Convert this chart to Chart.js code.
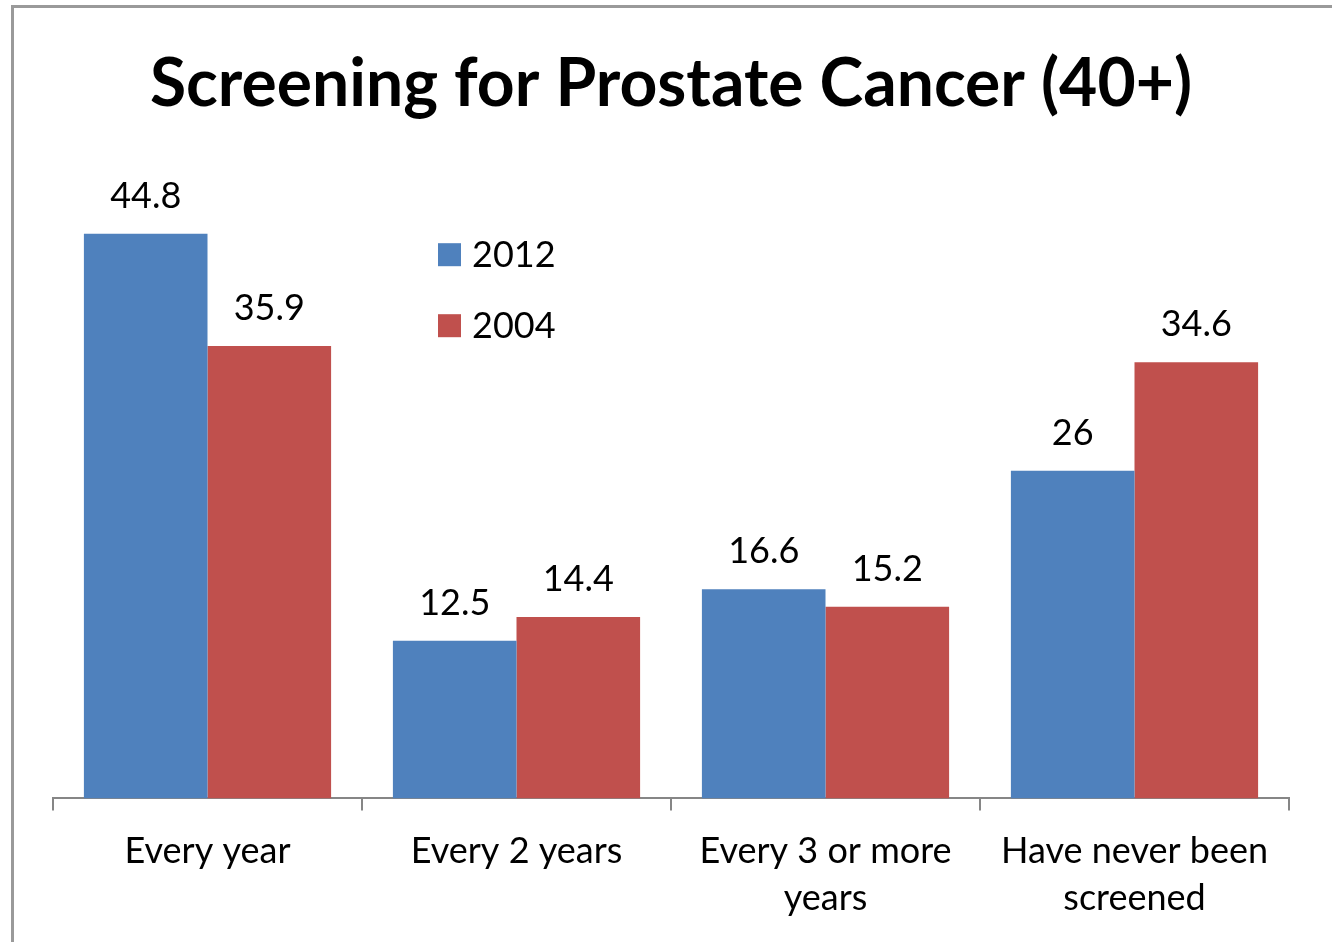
<!DOCTYPE html>
<html>
<head>
<meta charset="utf-8">
<title>Screening for Prostate Cancer (40+)</title>
<script src="https://cdn.jsdelivr.net/npm/chart.js@4.4.1/dist/chart.umd.min.js"></script>
<style>
    html, body { margin: 0; padding: 0; background: #fff; overflow: hidden; }
    #frame {
        position: absolute; left: 11px; top: 5px;
        width: 1400px; height: 1000px;
        border: 3px solid #9a9a9a;
    }
    #wrap { position: absolute; left: 0; top: 0; width: 1332px; height: 942px; }
</style>
</head>
<body>
<div id="frame"></div>
<div id="wrap"><canvas id="chart"></canvas></div>
<script>
const categories = [
    'Every year',
    'Every 2 years',
    ['Every 3 or more', 'years'],
    ['Have never been', 'screened']
];
const seriesNames = ['2012', '2004'];
const values2012 = [44.8, 12.5, 16.6, 26];
const values2004 = [35.9, 14.4, 15.2, 34.6];
const seriesColors = ['#4F81BD', '#C0504D'];

const bodyFont = "Lato, 'Open Sans', sans-serif";

// value labels above each bar
const valueLabels = {
    id: 'valueLabels',
    afterDatasetsDraw(chart) {
        const ctx = chart.ctx;
        ctx.save();
        ctx.font = '36px ' + bodyFont;
        ctx.fillStyle = '#000';
        ctx.textAlign = 'center';
        ctx.textBaseline = 'alphabetic';
        chart.data.datasets.forEach((ds, i) => {
            chart.getDatasetMeta(i).data.forEach((bar, j) => {
                ctx.fillText(String(ds.data[j]), bar.x, bar.y - 26);
            });
        });
        ctx.restore();
    }
};

// legend stacked inside the plot, near the first group
const innerLegend = {
    id: 'innerLegend',
    afterDraw(chart) {
        const ctx = chart.ctx;
        const area = chart.chartArea;
        const x = area.left + 385;
        let y = area.top + 86;
        ctx.save();
        ctx.font = '36px ' + bodyFont;
        ctx.textBaseline = 'middle';
        ctx.textAlign = 'left';
        chart.data.datasets.forEach(ds => {
            ctx.fillStyle = ds.backgroundColor;
            ctx.fillRect(x, y - 11, 23, 23);
            ctx.fillStyle = '#000';
            ctx.fillText(ds.label, x + 34, y + 1);
            y += 71;
        });
        ctx.restore();
    }
};

new Chart(document.getElementById('chart'), {
    type: 'bar',
    data: {
        labels: categories,
        datasets: [
            { label: seriesNames[0], data: values2012, backgroundColor: seriesColors[0] },
            { label: seriesNames[1], data: values2004, backgroundColor: seriesColors[1] }
        ]
    },
    options: {
        responsive: true,
        maintainAspectRatio: false,
        animation: false,
        layout: { padding: { left: 53, right: 43, top: 0, bottom: 2 } },
        datasets: { bar: { categoryPercentage: 0.8, barPercentage: 1.0 } },
        plugins: {
            legend: { display: false },
            tooltip: { enabled: false },
            title: {
                display: true,
                text: 'Screening for Prostate Cancer (40+)',
                color: '#000',
                font: { family: bodyFont, size: 66, weight: 'bold', lineHeight: 1.2 },
                padding: { top: 45, bottom: 44 }
            }
        },
        scales: {
            x: {
                offset: true,
                grid: {
                    offset: true,
                    drawOnChartArea: false,
                    drawTicks: true,
                    tickLength: 12,
                    color: '#868686',
                    lineWidth: 2
                },
                border: { display: true, color: '#868686', width: 2 },
                ticks: {
                    color: '#000',
                    padding: 18,
                    font: { family: bodyFont, size: 36, lineHeight: 1.3 }
                }
            },
            y: {
                display: false,
                min: 0,
                max: 50
            }
        }
    },
    plugins: [valueLabels, innerLegend]
});
</script>
</body>
</html>
